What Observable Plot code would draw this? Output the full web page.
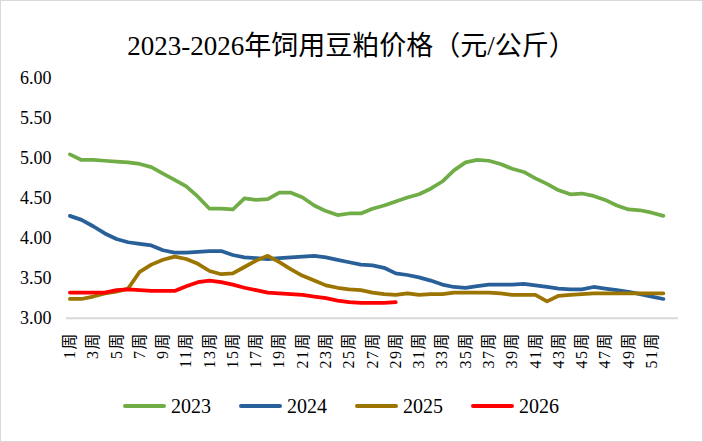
<!DOCTYPE html>
<html><head><meta charset="utf-8">
<script src="https://cdn.jsdelivr.net/npm/d3@7"></script>
<script src="https://cdn.jsdelivr.net/npm/@observablehq/plot@0.6"></script>
<style>
html,body{margin:0;padding:0;background:#fff;}
#chart{position:relative;width:703px;height:442px;box-sizing:border-box;border:1px solid #d9d9d9;background:#fff;overflow:hidden;}
#title{position:absolute;left:0;right:0;top:29px;text-align:center;font-family:"Liberation Serif","Noto Sans CJK SC",serif;font-size:27px;line-height:32px;color:#000;white-space:nowrap;}
#plot{position:absolute;left:-1px;top:59px;}
#legend{position:absolute;left:122px;top:393px;display:flex;gap:28px;font-family:"Liberation Serif",serif;font-size:20px;line-height:24px;color:#000;}
.item{display:flex;align-items:center;gap:5px}
.sw{width:43px;height:4px;border-radius:2px}
</style></head>
<body>
<div id="chart">
  <div id="title">2023-2026年饲用豆粕价格（元/公斤）</div>
  <div id="plot"></div>
  <div id="legend"></div>
</div>
<script>
const years = ["2023", "2024", "2025", "2026"];
const colors = ["#70AD47", "#2A6099", "#9C7400", "#FF0000"];
const yTicks = [3.0, 3.5, 4.0, 4.5, 5.0, 5.5, 6.0];
const xTicks = [1,3,5,7,9,11,13,15,17,19,21,23,25,27,29,31,33,35,37,39,41,43,45,47,49,51];

const v2023 = [5.05,4.98,4.98,4.97,4.96,4.95,4.93,4.89,4.81,4.73,
               4.65,4.52,4.37,4.37,4.36,4.50,4.48,4.49,4.57,4.57,
               4.51,4.41,4.34,4.29,4.31,4.31,4.37,4.41,4.46,4.51,
               4.55,4.62,4.71,4.85,4.95,4.98,4.97,4.93,4.87,4.83,
               4.75,4.68,4.60,4.55,4.56,4.53,4.48,4.41,4.36,4.35,
               4.32,4.28];
const v2024 = [4.28,4.23,4.15,4.06,3.99,3.95,3.93,3.91,3.85,3.82,
               3.82,3.83,3.84,3.84,3.79,3.76,3.75,3.74,3.75,3.76,
               3.77,3.78,3.76,3.73,3.70,3.67,3.66,3.63,3.56,3.54,
               3.51,3.47,3.42,3.39,3.38,3.40,3.42,3.42,3.42,3.43,
               3.41,3.39,3.37,3.36,3.36,3.39,3.37,3.35,3.33,3.30,
               3.27,3.24];
const v2025 = [3.24,3.24,3.27,3.31,3.33,3.37,3.58,3.67,3.73,3.77,
               3.74,3.68,3.59,3.55,3.56,3.64,3.72,3.78,3.70,3.61,
               3.53,3.47,3.41,3.38,3.36,3.35,3.32,3.30,3.29,3.31,
               3.29,3.30,3.30,3.32,3.32,3.32,3.32,3.31,3.29,3.29,
               3.29,3.21,3.28,3.29,3.30,3.31,3.31,3.31,3.31,3.31,
               3.31,3.31];
const v2026 = [3.32,3.32,3.32,3.32,3.35,3.36,3.35,3.34,3.34,3.34,
               3.40,3.45,3.47,3.45,3.42,3.38,3.35,3.32,3.31,3.30,
               3.29,3.27,3.25,3.22,3.20,3.19,3.19,3.19,3.20];

const seriesValues = [v2023, v2024, v2025, v2026];
const data = [];
years.forEach((y, k) => seriesValues[k].forEach((v, i) => data.push({year: y, week: i + 1, value: v})));

const font = "'Liberation Serif','Noto Sans CJK SC',serif";

const chart = Plot.plot({
  width: 703,
  height: 340,
  marginTop: 18,
  marginBottom: 82,
  marginLeft: 66,
  marginRight: 24,
  style: {fontFamily: font, color: "#000", background: "transparent", overflow: "visible"},
  x: {domain: [0.7, 53.3]},
  y: {domain: [3, 6]},
  color: {domain: years, range: colors},
  marks: [
    Plot.ruleY([3], {stroke: "#d9d9d9", strokeWidth: 2}),
    Plot.lineY(data, {x: "week", y: "value", z: "year", stroke: "year", strokeWidth: 3.75, strokeLinejoin: "round", strokeLinecap: "round"}),
    Plot.axisY({ticks: yTicks, tickFormat: d => d.toFixed(2), tickSize: 0, tickPadding: 15, fontSize: 18, fontFamily: font, label: null}),
    Plot.axisX({ticks: xTicks, tickFormat: d => d + "周", tickRotate: -90, tickSize: 0, tickPadding: 14, fontSize: 16, fontFamily: font, label: null})
  ]
});
document.getElementById("plot").appendChild(chart);
d3.select(chart).selectAll("g[aria-label='x-axis tick label'] text").attr("letter-spacing", "1.5px");

const legend = document.getElementById("legend");
years.forEach((y, k) => {
  const item = document.createElement("div");
  item.className = "item";
  const sw = document.createElement("div");
  sw.className = "sw";
  sw.style.background = colors[k];
  const t = document.createElement("span");
  t.textContent = y;
  item.appendChild(sw);
  item.appendChild(t);
  legend.appendChild(item);
});
</script>
</body></html>
